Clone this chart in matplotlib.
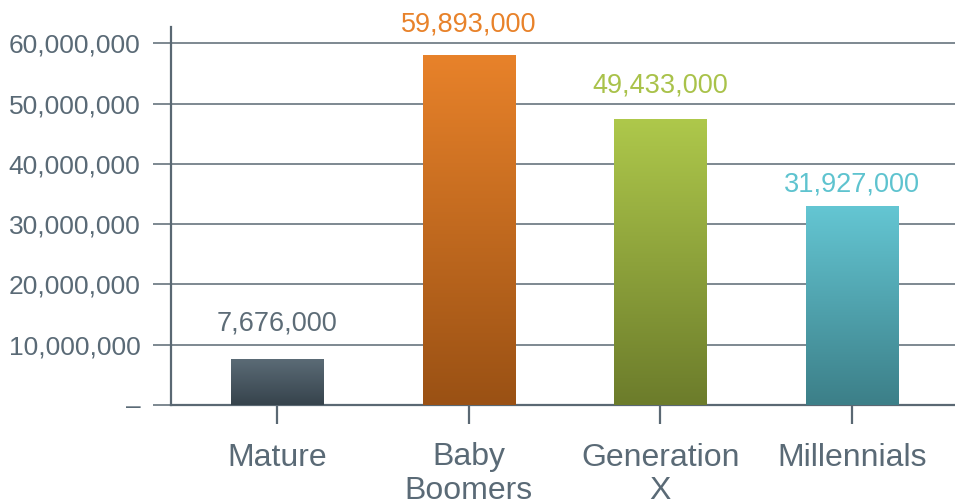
import numpy as np
import matplotlib
matplotlib.use("Agg")
import matplotlib.pyplot as plt
from matplotlib.colors import LinearSegmentedColormap

# data
categories = ["Mature", "Baby\nBoomers", "Generation\nX", "Millennials"]
bar_heights = [7630000, 58000000, 47400000, 33000000]
value_labels = ["7,676,000", "59,893,000", "49,433,000", "31,927,000"]
y_ticks = [0, 10000000, 20000000, 30000000, 40000000, 50000000, 60000000]
y_ticklabels = ["\u2013", "10,000,000", "20,000,000", "30,000,000",
                "40,000,000", "50,000,000", "60,000,000"]

# top / bottom gradient colours and label colours
tops = ["#5b6b76", "#e8822a", "#aec84b", "#64c6d3"]
bottoms = ["#36434c", "#9a5114", "#6c7c2b", "#3c7f88"]
label_colors = ["#5d6c77", "#e8822a", "#a9c24a", "#5ec3cf"]
label_offsets = [16, 13, 15, 6]  # points above bar top

axis_col = "#5a6873"
text_col = "#5a6a76"

plt.rcParams['font.family'] = ['Liberation Sans', 'DejaVu Sans']

fig = plt.figure(figsize=(9.55, 5.04), dpi=100)
ax = fig.add_axes([171/955, 99/504, 1 - 171/955, 378/504])

x = np.arange(len(categories))
bars = ax.bar(x, bar_heights, width=0.48, color="none", zorder=3)

# gradient fill clipped to each bar
for b, top, bot in zip(bars, tops, bottoms):
    cmap = LinearSegmentedColormap.from_list("g", [bot, top])
    grad = np.linspace(0, 1, 256).reshape(-1, 1)
    x0, y0 = b.get_x(), b.get_y()
    w, h = b.get_width(), b.get_height()
    im = ax.imshow(grad, cmap=cmap, origin="lower", aspect="auto",
                   extent=[x0, x0 + w, y0, y0 + h], zorder=3)
    im.set_clip_path(b)

for b, lab, c, off in zip(bars, value_labels, label_colors, label_offsets):
    ax.annotate(lab, (b.get_x() + b.get_width()/2, b.get_height()),
                xytext=(0, off), textcoords="offset points",
                ha="center", va="bottom", fontsize=19.5, color=c)

ax.set_xlim(-0.552, 3.536)
ax.set_ylim(0, 62700000)
ax.set_xticks(x)
ax.set_xticklabels(categories, fontsize=23, color=text_col, linespacing=1.15)
ax.set_yticks(y_ticks)
ax.set_yticklabels(y_ticklabels, fontsize=19, color=text_col)

ax.grid(axis="y", color=axis_col, linewidth=1.1, zorder=0)
ax.set_axisbelow(True)
for s in ["top", "right"]:
    ax.spines[s].set_visible(False)
for s in ["left", "bottom"]:
    ax.spines[s].set_color(axis_col)
    ax.spines[s].set_linewidth(1.6)
ax.tick_params(axis="y", length=13, width=1.1, color=axis_col, pad=9)
ax.tick_params(axis="x", length=14, width=1.6, color=axis_col, pad=13)

fig.savefig("out.png", dpi=100)
